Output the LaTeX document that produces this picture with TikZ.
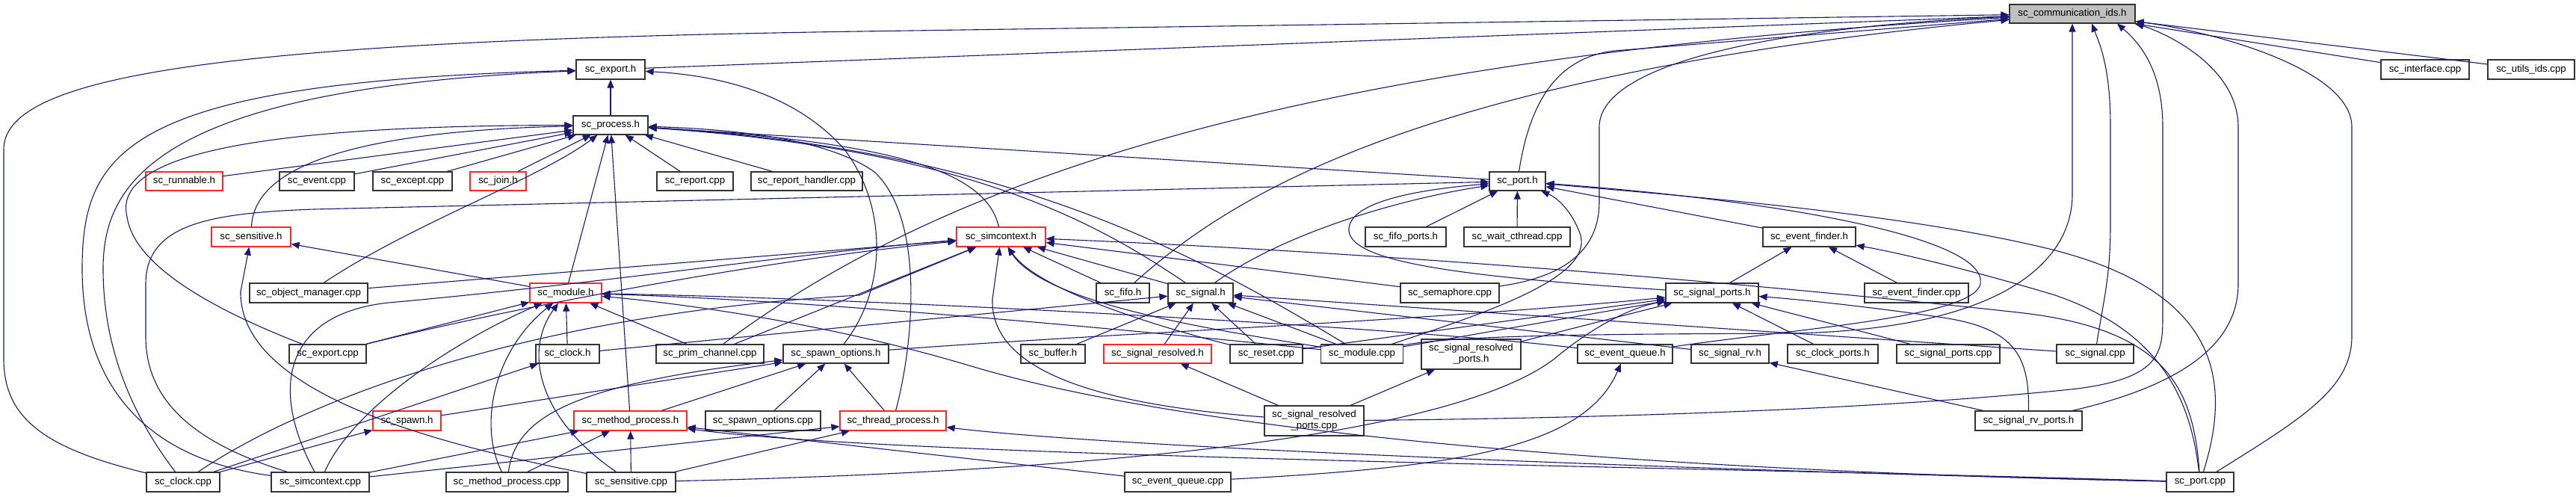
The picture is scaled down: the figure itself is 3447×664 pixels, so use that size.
\documentclass[tikz,border=0pt]{standalone}
\usepackage{fontspec}
\setmainfont{Liberation Sans}
\usetikzlibrary{arrows.meta}
\definecolor{edgeblue}{HTML}{191970}
\definecolor{commgray}{HTML}{BFBFBF}
\begin{document}
\begin{tikzpicture}[x=1pt,y=-1pt,
  box/.style={draw=black!80, line width=1.2pt, fill=white, inner sep=0pt, font=\fontsize{13.25}{15}\selectfont, align=center},
  redbox/.style={box, draw=red!85!white},
  e/.style={draw=edgeblue, line width=1.1pt, -{Triangle[length=11pt,width=9pt]}}]
\useasboundingbox (0,0) rectangle (3447,664);
\fill[white] (0,0) rectangle (3447,664);
% nodes
\newcommand{\nd}[6]{\node[#1, minimum width=#5pt, minimum height=#6pt] (#2) at (#3) {#4};}
\nd{box,fill=commgray}{comm}{2773,18.5}{sc\_communication\_ids.h}{168}{25}
\nd{box}{export_h}{817,93}{sc\_export.h}{92}{26}
\nd{box}{interface_cpp}{3245,93}{sc\_interface.cpp}{118}{26}
\nd{box}{utils_ids}{3387,93}{sc\_utils\_ids.cpp}{116}{26}
\nd{box}{process_h}{817,167.5}{sc\_process.h}{100}{25}
\nd{redbox}{runnable}{246.5,242.5}{sc\_runnable.h}{103}{25}
\nd{box}{event_cpp}{424,242.5}{sc\_event.cpp}{100}{25}
\nd{box}{except_cpp}{552,242.5}{sc\_except.cpp}{106}{25}
\nd{redbox}{join}{666.5,242.5}{sc\_join.h}{75}{25}
\nd{box}{report_cpp}{930,242.5}{sc\_report.cpp}{102}{25}
\nd{box}{report_handler}{1079.5,242.5}{sc\_report\_handler.cpp}{149}{25}
\nd{box}{port_h}{2030.5,242.5}{sc\_port.h}{75}{25}
\nd{redbox}{sensitive_h}{336,317}{sc\_sensitive.h}{106}{26}
\nd{redbox}{simcontext_h}{1339.5,317}{sc\_simcontext.h}{119}{26}
\nd{box}{fifo_ports}{1881,317}{sc\_fifo\_ports.h}{108}{26}
\nd{box}{wait_cthread}{2030,317}{sc\_wait\_cthread.cpp}{142}{26}
\nd{box}{event_finder_h}{2421,317}{sc\_event\_finder.h}{124}{26}
\nd{box}{object_manager}{413,392}{sc\_object\_manager.cpp}{158}{26}
\nd{redbox}{module_h}{757,392}{sc\_module.h}{96}{26}
\nd{box}{fifo_h}{1502.5,392}{sc\_fifo.h}{71}{26}
\nd{box}{signal_h}{1606.5,392}{sc\_signal.h}{87}{26}
\nd{box}{semaphore}{1940,392}{sc\_semaphore.cpp}{132}{26}
\nd{box}{signal_ports_h}{2291,392}{sc\_signal\_ports.h}{124}{26}
\nd{box}{event_finder_cpp}{2564.5,392}{sc\_event\_finder.cpp}{139}{26}
\nd{box}{export_cpp}{438.5,473.5}{sc\_export.cpp}{103}{25}
\nd{box}{clock_h}{759.5,473.5}{sc\_clock.h}{85}{25}
\nd{box}{prim_channel}{950,473.5}{sc\_prim\_channel.cpp}{144}{25}
\nd{box}{spawn_options_h}{1118.5,473.5}{sc\_spawn\_options.h}{141}{25}
\nd{box}{buffer_h}{1409,473.5}{sc\_buffer.h}{86}{25}
\nd{redbox}{signal_resolved_h}{1549,473.5}{sc\_signal\_resolved.h}{144}{25}
\nd{box}{reset_cpp}{1694.5,473.5}{sc\_reset.cpp}{97}{25}
\nd{box}{module_cpp}{1822.5,473.5}{sc\_module.cpp}{110}{25}
\nd{box}{signal_resolved_ports_h}{1968.5,474}{sc\_signal\_resolved\\\_ports.h}{133}{40}
\nd{box}{event_queue_h}{2174.5,473.5}{sc\_event\_queue.h}{127}{25}
\nd{box}{signal_rv_h}{2315,473.5}{sc\_signal\_rv.h}{104}{25}
\nd{box}{clock_ports}{2452.5,473.5}{sc\_clock\_ports.h}{121}{25}
\nd{box}{signal_ports_cpp}{2607,473.5}{sc\_signal\_ports.cpp}{138}{25}
\nd{box}{signal_cpp}{2803.5,473.5}{sc\_signal.cpp}{103}{25}
\nd{redbox}{spawn_h}{544.5,563}{sc\_spawn.h}{91}{26}
\nd{redbox}{method_process_h}{843.5,563}{sc\_method\_process.h}{151}{26}
\nd{box}{spawn_options_cpp}{1021,563}{sc\_spawn\_options.cpp}{154}{26}
\nd{redbox}{thread_process_h}{1195,563}{sc\_thread\_process.h}{142}{26}
\nd{box}{signal_resolved_ports_cpp}{1758.5,563}{sc\_signal\_resolved\\\_ports.cpp}{133}{40}
\nd{box}{signal_rv_ports_h}{2714.5,563}{sc\_signal\_rv\_ports.h}{143}{26}
\nd{box}{clock_cpp}{245,645}{sc\_clock.cpp}{98}{26}
\nd{box}{simcontext_cpp}{428.5,645}{sc\_simcontext.cpp}{131}{26}
\nd{box}{method_process_cpp}{678.5,645}{sc\_method\_process.cpp}{163}{26}
\nd{box}{sensitive_cpp}{844.5,645}{sc\_sensitive.cpp}{119}{26}
\nd{box}{event_queue_cpp}{1576,645}{sc\_event\_queue.cpp}{142}{26}
\nd{box}{port_cpp}{2944,645}{sc\_port.cpp}{90}{26}
% edges into sc_communication_ids.h
\draw[e] (export_h) -- (comm);
\draw[e] (clock_cpp) .. controls (60,600) and (5,560) .. (5,480) -- (5,200) .. controls (5,100) and (300,55) .. (1150,42) -- (comm);
\draw[e] (port_h) .. controls (2045,150) and (2075,78) .. (2160,68) -- (comm);
\draw[e] (prim_channel) .. controls (1250,250) and (1700,80) .. (comm);
\draw[e] (fifo_h) .. controls (1650,260) and (1900,100) .. (comm);
\draw[e] (semaphore) .. controls (2100,370) and (2140,330) .. (2140,270) -- (2140,170) .. controls (2140,80) and (2400,35) .. (comm);
\draw[e] (module_cpp) .. controls (1950,447) and (2200,447) .. (2400,446) .. controls (2680,440) and (2773,350) .. (2773,260) -- (comm);
\draw[e] (signal_cpp) .. controls (2815,400) and (2824,370) .. (2824,300) -- (2824,170) .. controls (2824,90) and (2810,60) .. ([xshift=26pt]comm.south);
\draw[e] (signal_resolved_ports_cpp) .. controls (2100,560) and (2500,550) .. (2780,520) .. controls (2894,505) and (2894,470) .. (2894,420) -- (2894,170) .. controls (2894,90) and (2860,55) .. ([xshift=60pt]comm.south);
\draw[e] (signal_rv_ports_h) .. controls (2900,520) and (2995,470) .. (2995,380) -- (2995,170) .. controls (2995,90) and (2900,45) .. (comm.south east);
\draw[e] (port_cpp) .. controls (3080,560) and (3147,520) .. (3147,450) -- (3147,170) .. controls (3147,90) and (2950,40) .. (comm);
\draw[e] (interface_cpp) -- (comm);
\draw[e] (utils_ids) -- (comm);
% into sc_export.h
\draw[e] (process_h) -- (export_h);
\draw[e] (simcontext_cpp) .. controls (200,615) and (110,520) .. (110,360) .. controls (110,200) and (170,110) .. (export_h);
\draw[e] (clock_cpp) .. controls (180,560) and (138,470) .. (138,360) .. controls (138,250) and (200,118) .. (export_h);
\draw[e] (spawn_options_h) .. controls (1185,390) and (1190,280) .. (1130,200) .. controls (1060,120) and (950,100) .. (export_h);
% into sc_process.h
\draw[e] (export_cpp) .. controls (300,420) and (180,360) .. (170,290) .. controls (150,210) and (330,168) .. (process_h);
\draw[e] (runnable) -- (process_h);
\draw[e] (event_cpp) -- (process_h);
\draw[e] (except_cpp) -- (process_h);
\draw[e] (join) -- (process_h);
\draw[e] (sensitive_h) .. controls (340,215) and (500,175) .. (process_h);
\draw[e] (object_manager) .. controls (550,300) and (720,240) .. (process_h);
\draw[e] (module_h) -- (process_h);
\draw[e] (method_process_h) -- (process_h);
\draw[e] (report_cpp) -- (process_h);
\draw[e] (report_handler) -- (process_h);
\draw[e] (port_h) -- (process_h);
\draw[e] (simcontext_h) .. controls (1320,230) and (1200,190) .. (process_h);
\draw[e] (signal_h) .. controls (1470,300) and (1300,200) .. (process_h);
\draw[e] (module_cpp) .. controls (1600,340) and (1350,200) .. (process_h);
\draw[e] (thread_process_h) .. controls (1225,450) and (1235,290) .. (1170,230) .. controls (1100,180) and (950,172) .. (process_h);
% into sc_port.h
\draw[e] (simcontext_cpp) .. controls (250,590) and (195,530) .. (195,450) -- (195,380) .. controls (195,300) and (280,285) .. (420,280) -- (port_h);
\draw[e] (fifo_ports) -- (port_h);
\draw[e] (wait_cthread) -- (port_h);
\draw[e] (event_finder_h) -- (port_h);
\draw[e] (signal_h) .. controls (1720,310) and (1880,265) .. (port_h);
\draw[e] (signal_ports_h) .. controls (1950,370) and (1800,350) .. (1805,305) .. controls (1810,265) and (1920,252) .. (port_h);
\draw[e] (module_cpp) .. controls (2000,415) and (2130,370) .. (2115,315) .. controls (2105,285) and (2085,265) .. (port_h);
\draw[e] (port_cpp) .. controls (2990,500) and (2960,390) .. (2750,335) .. controls (2550,285) and (2250,262) .. (port_h);
\draw[e] (event_queue_h) .. controls (2400,440) and (2640,425) .. (2650,380) .. controls (2660,320) and (2400,270) .. (port_h);
% into sc_simcontext.h
\draw[e] (clock_cpp) .. controls (400,540) and (700,420) .. (1150,395) -- (simcontext_h);
\draw[e] (simcontext_cpp) .. controls (360,520) and (380,420) .. (520,405) .. controls (800,380) and (1100,335) .. (simcontext_h);
\draw[e] (object_manager) -- (simcontext_h);
\draw[e] (export_cpp) .. controls (650,420) and (1000,350) .. (simcontext_h);
\draw[e] (prim_channel) -- (simcontext_h);
\draw[e] (fifo_h) -- (simcontext_h);
\draw[e] (signal_h) -- (simcontext_h);
\draw[e] (reset_cpp) .. controls (1560,440) and (1390,390) .. (simcontext_h);
\draw[e] (module_cpp) .. controls (1650,445) and (1400,410) .. (simcontext_h);
\draw[e] (signal_resolved_ports_cpp) .. controls (1450,540) and (1325,490) .. (1328,400) -- (simcontext_h);
\draw[e] (semaphore) -- (simcontext_h);
\draw[e] (port_cpp) .. controls (2935,520) and (2900,440) .. (2700,418) .. controls (2400,385) and (1900,340) .. (simcontext_h);
% into sc_module.h
\draw[e] (module_h) -- (sensitive_h);
\draw[e] (export_cpp) -- (module_h);
\draw[e] (clock_h) -- (module_h);
\draw[e] (prim_channel) -- (module_h);
\draw[e] (simcontext_cpp) .. controls (470,550) and (600,460) .. (module_h);
\draw[e] (method_process_cpp) .. controls (640,570) and (660,470) .. (module_h);
\draw[e] (sensitive_cpp) .. controls (720,560) and (700,470) .. (module_h);
\draw[e] (module_cpp) .. controls (1550,445) and (1100,402) .. (module_h);
\draw[e] (event_queue_h) .. controls (1900,440) and (1200,400) .. (module_h);
\draw[e] (port_cpp) .. controls (2200,630) and (1600,580) .. (1300,490) .. controls (1100,430) and (900,405) .. (module_h);
% sensitive, clock, spawn
\draw[e] (sensitive_cpp) .. controls (560,590) and (320,520) .. (322,390) -- (sensitive_h);
\draw[e] (clock_cpp) -- (clock_h);
\draw[e] (clock_cpp) -- (spawn_h);
% into sc_spawn_options.h
\draw[e] (spawn_h) -- (spawn_options_h);
\draw[e] (method_process_h) -- (spawn_options_h);
\draw[e] (spawn_options_cpp) -- (spawn_options_h);
\draw[e] (thread_process_h) -- (spawn_options_h);
\draw[e] (method_process_cpp) .. controls (690,560) and (760,515) .. (spawn_options_h);
\draw[e] (spawn_options_h) .. controls (1500,445) and (1900,430) .. (signal_ports_h);
% into sc_method_process.h / sc_thread_process.h
\draw[e] (sensitive_cpp) -- (method_process_h);
\draw[e] (method_process_cpp) -- (method_process_h);
\draw[e] (simcontext_cpp) -- (method_process_h);
\draw[e] (event_queue_cpp) -- (method_process_h);
\draw[e] (port_cpp) .. controls (2300,625) and (1200,612) .. (method_process_h);
\draw[e] (simcontext_cpp) -- (thread_process_h);
\draw[e] (sensitive_cpp) -- (thread_process_h);
\draw[e] (port_cpp) .. controls (2300,630) and (1500,600) .. (thread_process_h);
% into sc_signal.h
\draw[e] (clock_h) -- (signal_h);
\draw[e] (buffer_h) -- (signal_h);
\draw[e] (signal_resolved_h) -- (signal_h);
\draw[e] (reset_cpp) -- (signal_h);
\draw[e] (module_cpp) -- (signal_h);
\draw[e] (signal_rv_h) -- (signal_h);
\draw[e] (signal_cpp) -- (signal_h);
% into sc_signal_ports.h
\draw[e] (module_cpp) -- (signal_ports_h);
\draw[e] (reset_cpp) -- (signal_ports_h);
\draw[e] (signal_resolved_ports_h) -- (signal_ports_h);
\draw[e] (sensitive_cpp) .. controls (1500,630) and (1950,580) .. (2080,480) .. controls (2140,430) and (2190,410) .. (signal_ports_h);
\draw[e] (signal_ports_cpp) -- (signal_ports_h);
\draw[e] (clock_ports) -- (signal_ports_h);
\draw[e] (signal_rv_ports_h) .. controls (2715,480) and (2700,440) .. (2600,425) .. controls (2500,410) and (2400,400) .. (signal_ports_h);
% others
\draw[e] (signal_rv_ports_h) -- (signal_rv_h);
\draw[e] (signal_resolved_ports_cpp) -- (signal_resolved_h);
\draw[e] (signal_resolved_ports_cpp) -- (signal_resolved_ports_h);
\draw[e] (signal_ports_h) -- (event_finder_h);
\draw[e] (event_finder_cpp) -- (event_finder_h);
\draw[e] (port_cpp) .. controls (2930,520) and (2880,440) .. (2750,395) .. controls (2650,365) and (2550,340) .. (event_finder_h);
\draw[e] (event_queue_cpp) .. controls (1950,625) and (2120,600) .. (event_queue_h);
\end{tikzpicture}
\end{document}
